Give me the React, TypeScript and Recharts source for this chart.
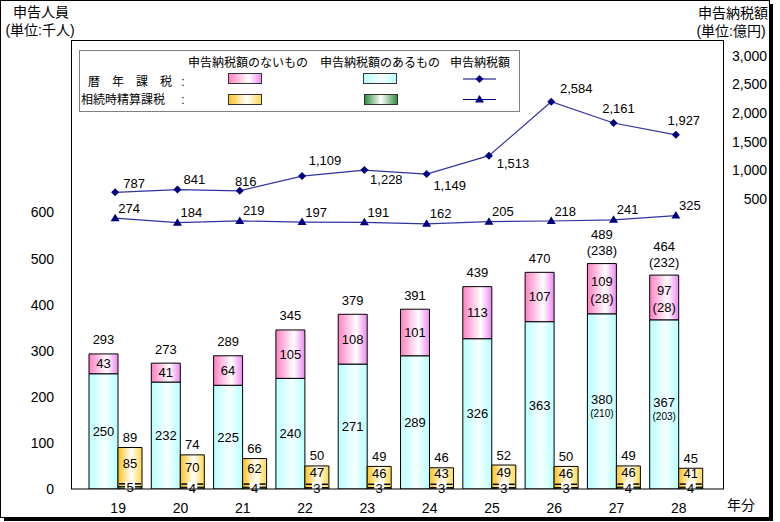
import React from 'react';
import { ComposedChart, Bar, Line, XAxis, YAxis, LabelList } from 'recharts';

// 年分
const years = ['19', '20', '21', '22', '23', '24', '25', '26', '27', '28'];

// 暦年課税 (千人)
const calendarWithTax = [250, 232, 225, 240, 271, 289, 326, 363, 380, 367];
const calendarNoTax = [43, 41, 64, 105, 108, 101, 113, 107, 109, 97];
const calendarTotal = [293, 273, 289, 345, 379, 391, 439, 470, 489, 464];
const calendarWithTaxSub = [null, null, null, null, null, null, null, null, 210, 203];
const calendarNoTaxSub = [null, null, null, null, null, null, null, null, 28, 28];
const calendarTotalSub = [null, null, null, null, null, null, null, null, 238, 232];

// 相続時精算課税 (千人)
const settleWithTax = [5, 4, 4, 3, 3, 3, 3, 3, 4, 4];
const settleNoTax = [85, 70, 62, 47, 46, 43, 49, 46, 46, 41];
const settleTotal = [89, 74, 66, 50, 49, 46, 52, 50, 49, 45];

// 申告納税額 (億円)
const calendarTaxAmount = [787, 841, 816, 1109, 1228, 1149, 1513, 2584, 2161, 1927];
const settleTaxAmount = [274, 184, 219, 197, 191, 162, 205, 218, 241, 325];

const peopleTicks = [0, 100, 200, 300, 400, 500, 600];
const amountTicks = [500, 1000, 1500, 2000, 2500, 3000];

// label offsets for the 暦年課税 amount line
const calAmtDx = [19, 17, 6, 23, 22, 23, 24, 25, 5, 8];
const calAmtDy = [-9, -10, -9, -16, 9, 11, 8, -13, -15, -14];

const data = years.map((year, i) => ({
  year,
  calWith: calendarWithTax[i],
  calNo: calendarNoTax[i],
  calTotal: calendarTotal[i],
  setWith: settleWithTax[i],
  setNo: settleNoTax[i],
  setTotal: settleTotal[i],
  calAmt: calendarTaxAmount[i],
  setAmt: settleTaxAmount[i],
}));

const FONT = '"Liberation Sans", "Noto Sans CJK JP", sans-serif';
const NAVY = '#000080';
const fmt = (v: number) => v.toLocaleString('en-US');

const box = (p: any) => {
  const vb = p.viewBox || {};
  return {
    x: vb.x ?? p.x,
    y: vb.y ?? p.y,
    width: vb.width ?? p.width ?? 0,
    height: vb.height ?? p.height ?? 0,
  };
};

const T = ({ x, y, children, size = 13, anchor = 'middle' }: any) => (
  <text x={x} y={y} textAnchor={anchor} dominantBaseline="central" fontSize={size} fontFamily={FONT} fill="#000">
    {children}
  </text>
);

const CalWithLabel = (p: any) => {
  const { x, y, width, height } = box(p);
  const cx = x + width / 2;
  const cy = y + height / 2;
  const sub = calendarWithTaxSub[p.index];
  if (sub == null) return <T x={cx} y={cy}>{p.value}</T>;
  return (
    <g>
      <T x={cx} y={cy - 2}>{p.value}</T>
      <T x={cx} y={cy + 12} size={10}>({sub})</T>
    </g>
  );
};

const CalNoLabel = (p: any) => {
  const { x, y, width, height } = box(p);
  const cx = x + width / 2;
  const cy = y + height / 2;
  const sub = calendarNoTaxSub[p.index];
  if (sub == null) return <T x={cx} y={cy}>{p.value}</T>;
  return (
    <g>
      <T x={cx} y={cy - 7}>{p.value}</T>
      <T x={cx} y={cy + 10}>({sub})</T>
    </g>
  );
};

const CalTotalLabel = (p: any) => {
  const { x, y, width } = box(p);
  const cx = x + width / 2;
  const sub = calendarTotalSub[p.index];
  if (sub == null) return <T x={cx} y={y - 14}>{p.value}</T>;
  return (
    <g>
      <T x={cx} y={y - 29}>{p.value}</T>
      <T x={cx} y={y - 13}>({sub})</T>
    </g>
  );
};

const SetNoLabel = (p: any) => {
  const { x, y, width, height } = box(p);
  return <T x={x + width / 2} y={y + height / 2 - 4}>{p.value}</T>;
};

const SetTotalLabel = (p: any) => {
  const { x, y, width } = box(p);
  return <T x={x + width / 2} y={y - 10}>{p.value}</T>;
};

const SetWithLabel = (p: any) => {
  const { x, y, width, height } = box(p);
  const cx = x + width / 2;
  const cy = y + height / 2;
  return (
    <g>
      <rect x={cx - 5} y={cy - 6} width={10} height={12} fill="#fff" />
      <line x1={x + 1} x2={cx - 5} y1={cy - 4} y2={cy - 4} stroke="#000" strokeWidth={1.5} />
      <line x1={cx + 5} x2={x + width - 1} y1={cy - 4} y2={cy - 4} stroke="#000" strokeWidth={1.5} />
      <T x={cx} y={cy}>{p.value}</T>
    </g>
  );
};

const CalAmtLabel = (p: any) => {
  const { x, y } = box(p);
  return <T x={x + calAmtDx[p.index]} y={y + calAmtDy[p.index]}>{fmt(p.value)}</T>;
};

const SetAmtLabel = (p: any) => {
  const { x, y } = box(p);
  return <T x={x + 14} y={y - 10}>{fmt(p.value)}</T>;
};

const Diamond = (p: any) => {
  const { cx, cy } = p;
  if (cx == null || cy == null) return null;
  return <path d={`M${cx},${cy - 4} L${cx + 4},${cy} L${cx},${cy + 4} L${cx - 4},${cy} Z`} fill={NAVY} />;
};

const Triangle = (p: any) => {
  const { cx, cy } = p;
  if (cx == null || cy == null) return null;
  return <path d={`M${cx},${cy - 4.5} L${cx + 4.5},${cy + 3} L${cx - 4.5},${cy + 3} Z`} fill={NAVY} />;
};

const XTick = (p: any) => <T x={p.x + 3} y={508} size={14}>{p.payload.value}</T>;
const LeftTick = (p: any) => <T x={54} y={p.y} size={14} anchor="end">{p.payload.value}</T>;
const RightTick = (p: any) => <T x={767} y={p.y} size={14} anchor="end">{fmt(p.payload.value)}</T>;

function Background() {
  return (
    <svg width={780} height={522} style={{ position: 'absolute', left: 0, top: 0 }}>
      <defs>
        <linearGradient id="gPink" x1="0" y1="0" x2="1" y2="0">
          <stop offset="0%" stopColor="#ff80c4" />
          <stop offset="62%" stopColor="#ffffff" />
          <stop offset="100%" stopColor="#ee88ee" />
        </linearGradient>
        <linearGradient id="gCyan" x1="0" y1="0" x2="1" y2="0">
          <stop offset="0%" stopColor="#b8ffff" />
          <stop offset="55%" stopColor="#f6ffff" />
          <stop offset="100%" stopColor="#b8ffff" />
        </linearGradient>
        <linearGradient id="gYellow" x1="0" y1="0" x2="1" y2="0">
          <stop offset="0%" stopColor="#ffc21a" />
          <stop offset="55%" stopColor="#ffffff" />
          <stop offset="100%" stopColor="#ffd84a" />
        </linearGradient>
        <linearGradient id="gGreen" x1="0" y1="0" x2="1" y2="0">
          <stop offset="0%" stopColor="#2e8b3a" />
          <stop offset="50%" stopColor="#ffffff" />
          <stop offset="100%" stopColor="#2e8b3a" />
        </linearGradient>
      </defs>
      {/* chart frame with shadow */}
      <rect x={4} y={4} width={769} height={517} fill="#000" />
      <rect x={0} y={0} width={770} height={518} fill="#fff" />
    </svg>
  );
}

function Overlay() {
  return (
    <svg width={780} height={522} style={{ position: 'absolute', left: 0, top: 0, pointerEvents: 'none' }}>
      <rect x={0.5} y={0.5} width={769} height={517} fill="none" stroke="#000" />
      {/* plot frame */}
      <rect x={71.5} y={40.5} width={652} height={448.5} fill="none" stroke="#000" />

      <T x={41} y={12} size={14}>申告人員</T>
      <T x={40} y={30} size={14}>(単位:千人)</T>
      <T x={733} y={13} size={14}>申告納税額</T>
      <T x={731} y={31} size={14}>(単位:億円)</T>
      <T x={741} y={505} size={14}>年分</T>

      {/* legend */}
      <rect x={79.5} y={50.5} width={440} height={61} fill="#fff" stroke="#808080" />
      <T x={248} y={63} size={12}>申告納税額のないもの</T>
      <T x={380} y={63} size={12}>申告納税額のあるもの</T>
      <T x={480} y={63} size={12}>申告納税額</T>
      <T x={88} y={82} size={12} anchor="start">暦&#8195;年&#8195;課&#8195;税</T>
      <T x={183} y={82} size={12}>:</T>
      <T x={81} y={100} size={12} anchor="start">相続時精算課税</T>
      <T x={183} y={100} size={12}>:</T>
      <rect x={228.5} y={73.5} width={33} height={10} fill="url(#gPink)" stroke="#333" />
      <rect x={363.5} y={73.5} width={33} height={10} fill="url(#gCyan)" stroke="#333" />
      <rect x={228.5} y={94.5} width={33} height={10} fill="url(#gYellow)" stroke="#333" />
      <rect x={364.5} y={94.5} width={33} height={10} fill="url(#gGreen)" stroke="#333" />
      <line x1={463} x2={496} y1={79} y2={79} stroke={NAVY} strokeWidth={1.2} />
      <Diamond cx={479.5} cy={79} />
      <line x1={463} x2={496} y1={99.5} y2={99.5} stroke={NAVY} strokeWidth={1.2} />
      <Triangle cx={479.5} cy={99.5} />
    </svg>
  );
}

export default function App() {
  return (
    <div style={{ position: 'absolute', left: 0, top: 0, width: 780, height: 522, background: '#fff', fontFamily: FONT }}>
      <Background />
      <div style={{ position: 'absolute', left: 0, top: 0 }}>
        <ComposedChart
          width={780}
          height={522}
          data={data}
          margin={{ top: 40, right: 0, bottom: 0, left: 0 }}
          barGap={0}
        >
          <XAxis
            dataKey="year"
            axisLine={false}
            tickLine={false}
            height={33}
            padding={{ left: 13, right: 17 }}
            tick={<XTick />}
            interval={0}
          />
          <YAxis
            yAxisId="people"
            width={71}
            domain={[0, 974]}
            ticks={peopleTicks}
            allowDataOverflow
            axisLine={false}
            tickLine={false}
            tick={<LeftTick />}
          />
          <YAxis
            yAxisId="amountLabel"
            orientation="right"
            width={56}
            type="number"
            domain={[-4560, 3275]}
            ticks={amountTicks}
            allowDataOverflow
            axisLine={false}
            tickLine={false}
            tick={<RightTick />}
          />
          <YAxis yAxisId="amount" orientation="right" hide type="number" domain={[-5096, 3807]} allowDataOverflow />

          <Bar yAxisId="people" dataKey="calWith" stackId="cal" barSize={29} fill="url(#gCyan)" stroke="#000" strokeWidth={1} isAnimationActive={false}>
            <LabelList dataKey="calWith" content={<CalWithLabel />} />
          </Bar>
          <Bar yAxisId="people" dataKey="calNo" stackId="cal" barSize={29} fill="url(#gPink)" stroke="#000" strokeWidth={1} isAnimationActive={false}>
            <LabelList dataKey="calNo" content={<CalNoLabel />} />
            <LabelList dataKey="calTotal" content={<CalTotalLabel />} />
          </Bar>
          <Bar yAxisId="people" dataKey="setWith" stackId="set" barSize={24} fill="url(#gGreen)" stroke="#000" strokeWidth={1} isAnimationActive={false}>
            <LabelList dataKey="setWith" content={<SetWithLabel />} />
          </Bar>
          <Bar yAxisId="people" dataKey="setNo" stackId="set" barSize={24} fill="url(#gYellow)" stroke="#000" strokeWidth={1} isAnimationActive={false}>
            <LabelList dataKey="setNo" content={<SetNoLabel />} />
            <LabelList dataKey="setTotal" content={<SetTotalLabel />} />
          </Bar>

          <Line
            yAxisId="amount"
            dataKey="calAmt"
            stroke="#3333a0"
            strokeWidth={1.2}
            dot={<Diamond />}
            activeDot={false}
            isAnimationActive={false}
          >
            <LabelList dataKey="calAmt" content={<CalAmtLabel />} />
          </Line>
          <Line
            yAxisId="amount"
            dataKey="setAmt"
            stroke="#3333a0"
            strokeWidth={1.2}
            dot={<Triangle />}
            activeDot={false}
            isAnimationActive={false}
          >
            <LabelList dataKey="setAmt" content={<SetAmtLabel />} />
          </Line>
        </ComposedChart>
      </div>
      <Overlay />
    </div>
  );
}
